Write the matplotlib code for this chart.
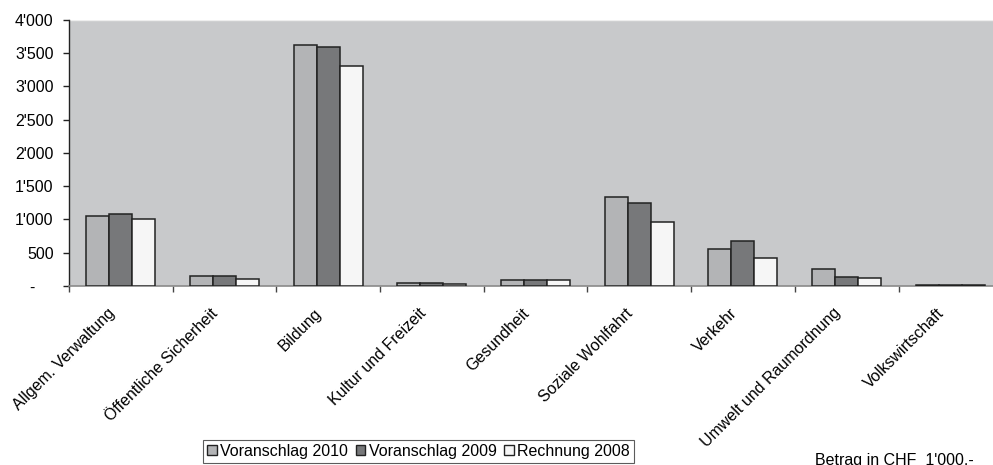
import matplotlib
matplotlib.use("Agg")
import matplotlib.pyplot as plt
from matplotlib.patches import Patch
from matplotlib.ticker import FixedLocator
import numpy as np

plt.rcParams['font.family'] = ['Liberation Sans', 'DejaVu Sans']

categories = ["Allgem. Verwaltung", "Öffentliche Sicherheit", "Bildung", "Kultur und Freizeit",
              "Gesundheit", "Soziale Wohlfahrt", "Verkehr", "Umwelt und Raumordnung", "Volkswirtschaft"]
series_names = ["Voranschlag 2010", "Voranschlag 2009", "Rechnung 2008"]
va2010 = [1045, 150, 3620, 45, 95, 1345, 552, 250, 20]
va2009 = [1085, 148, 3600, 45, 95, 1253, 672, 140, 20]
re2008 = [1012, 100, 3308, 30, 90, 958, 416, 125, 15]
yticks = [0, 500, 1000, 1500, 2000, 2500, 3000, 3500, 4000]
ytick_labels = ["-    ", "500", "1'000", "1'500", "2'000", "2'500", "3'000", "3'500", "4'000"]

colors = ["#b3b4b6", "#77787a", "#f6f6f6"]
FS = 11.5

fig = plt.figure(figsize=(9.93, 4.65), dpi=100)
ax = fig.add_axes([0.0693, 0.385, 0.94, 0.572])
ax.set_facecolor("#c8c9cb")

x = np.arange(len(categories))
w = 0.222
for i, vals in enumerate([va2010, va2009, re2008]):
    ax.bar(x + (i - 1) * w, vals, width=w, color=colors[i], edgecolor="#222222",
           linewidth=1.1, zorder=3)

ax.set_xlim(-0.5, len(categories) - 0.5)
ax.set_ylim(0, 4000)
ax.set_yticks(yticks)
ax.set_yticklabels(ytick_labels, fontsize=FS)
ax.tick_params(axis='y', direction='out', length=4, width=1, color="#222222", pad=7)

ax.xaxis.set_minor_locator(FixedLocator(np.arange(-0.5, len(categories), 1.0)))
ax.set_xticks(x - 0.03)
ax.set_xticklabels(categories, rotation=45, ha='right', va='top', fontsize=FS)
ax.tick_params(axis='x', which='major', length=0, pad=14)
ax.tick_params(axis='x', which='minor', length=4.5, width=1, color="#444444", direction='out')

for s in ["top", "right"]:
    ax.spines[s].set_visible(False)
ax.spines["left"].set_color("#222222")
ax.spines["left"].set_linewidth(1)
ax.spines["bottom"].set_color("#8a8a8a")
ax.spines["bottom"].set_linewidth(1.2)
ax.axhline(4000, color="#eeeeee", linewidth=1, zorder=1)

handles = [Patch(facecolor=colors[i], edgecolor="#222222", linewidth=1, label=series_names[i]) for i in range(3)]
leg = fig.legend(handles=handles, loc='center', bbox_to_anchor=(418.5 / 993, 1 - 451.5 / 465), ncol=3,
                 fontsize=FS, frameon=True, fancybox=False, edgecolor="#333333",
                 handlelength=0.6, handleheight=0.6, handletextpad=0.2, columnspacing=0.5,
                 borderpad=0.25, borderaxespad=0)
leg.get_frame().set_linewidth(0.8)

fig.text(815 / 993, 1 - 465 / 465, "Betrag in CHF  1'000.-", fontsize=FS, ha='left', va='baseline')

fig.savefig("out.png", dpi=100)
